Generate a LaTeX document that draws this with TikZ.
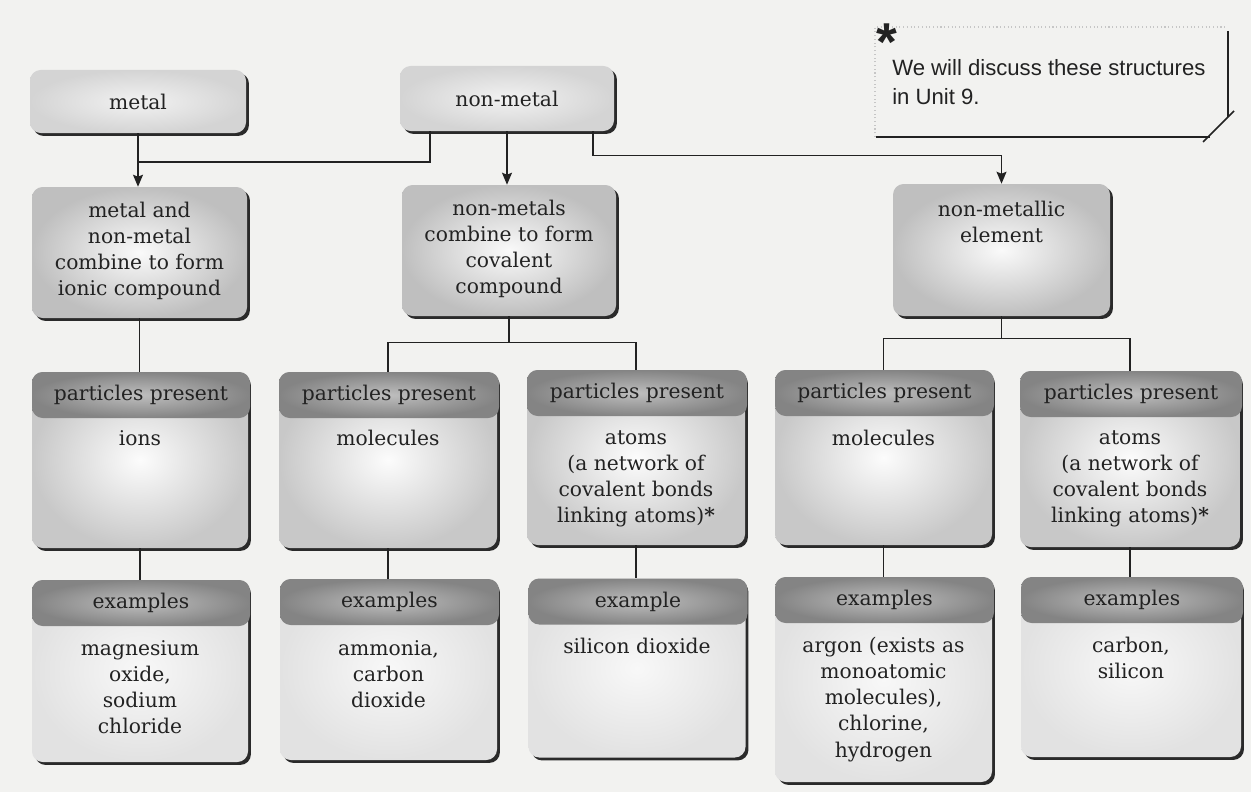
\documentclass[tikz,border=0pt]{standalone}
\usepackage{fontspec}
\setmainfont{DejaVu Serif}
\newfontfamily\notefont{Liberation Sans}
\usetikzlibrary{arrows.meta,shadows,calc}
\newcommand\pxu{0.75pt}
\newcommand\mainsz{\fontsize{15.2}{19.6}\selectfont}
\definecolor{bgc}{HTML}{F2F2F0}
\definecolor{ink}{HTML}{222222}
\definecolor{shd}{HTML}{2A2A2A}
\definecolor{topin}{HTML}{F2F2F2}
\definecolor{topout}{HTML}{D4D4D4}
\definecolor{midin}{HTML}{FAFAFA}
\definecolor{midout}{HTML}{BFBFBF}
\definecolor{pin}{HTML}{FCFCFC}
\definecolor{pout}{HTML}{C8C8C8}
\definecolor{hin}{HTML}{BEBEBE}
\definecolor{hout}{HTML}{848484}
\definecolor{ein}{HTML}{F8F8F8}
\definecolor{eout}{HTML}{E2E2E2}
\tikzset{
  sz/.style 2 args={minimum width=#1*\pxu, minimum height=#2*\pxu},
  basebox/.style={rectangle, rounded corners=8pt, inner sep=0pt,
    general shadow={fill=shd, shadow xshift=2.2pt, shadow yshift=-2.2pt}},
  topbox/.style={basebox, inner color=topin, outer color=topout, font=\mainsz, text=ink},
  midbox/.style={basebox, inner color=midin, outer color=midout},
  pbox/.style={basebox, inner color=pin, outer color=pout},
  ebox/.style={basebox, inner color=ein, outer color=eout},
  hdr/.style={rectangle, rounded corners=8pt, inner sep=0pt, anchor=north,
    inner color=hin, outer color=hout, font=\mainsz, text=ink},
  txt/.style={inner sep=0pt, anchor=north, align=center, font=\mainsz, text=ink},
  conn/.style={draw=ink, line width=1.1pt},
  arr/.style={conn, -{Stealth[length=9pt,width=7.5pt,inset=1.5pt]}},
  noteline/.style={draw=ink, line width=1.1pt},
}
\begin{document}
\begin{tikzpicture}[x=0.75pt,y=-0.75pt]
\fill[bgc] (0,0) rectangle (1251,792);

% note
\draw[gray!45, dotted, line width=0.8pt] (875,137) -- (875,27) -- (1226,27);
\draw[noteline] (876,137) -- (1210,137);
\draw[noteline] (1228,31) -- (1228,117);
\draw[noteline] (1203,142) -- (1234,111);
\node[inner sep=0pt, text=ink, font={\notefont\fontsize{40}{40}\selectfont\bfseries}] (ast) at (887,42) {*};
\node[inner sep=0pt, anchor=north west, align=left, text=ink,
  font={\notefont\fontsize{16.6}{21.5}\selectfont}] (note) at (892,55) {\strut We will discuss these structures\\in Unit 9.};

% top row
\node[topbox, sz={216}{63}] (metal) at (138,101.5) {metal};
\node[topbox, sz={214}{65}] (nonmetal) at (507,98.5) {non-metal};

% second row
\node[midbox, sz={215}{131}] (ionic) at (139.5,252.5) {};
\node[txt] (ionict) at (139.5,199) {\strut metal and\\non-metal\\combine to form\\ionic compound};
\node[midbox, sz={214}{131}] (coval) at (509,250.5) {};
\node[txt] (covalt) at (509,197) {\strut non-metals\\combine to form\\covalent\\compound};
\node[midbox, sz={217}{132}] (nmel) at (1001.5,250) {};
\node[txt] (nmelt) at (1001.5,197.5) {\strut non-metallic\\element};

% third row
\node[pbox, sz={216}{176}] (p1) at (140,460) {};
\node[hdr, sz={218}{46}] (p1h) at ([xshift=1*\pxu]p1.north) {particles present};
\node[txt] (p1t) at (140,427) {\strut ions};
\node[pbox, sz={218}{176}] (p2) at (388,460) {};
\node[hdr, sz={220}{46}] (p2h) at ([xshift=1*\pxu]p2.north) {particles present};
\node[txt] (p2t) at (388,427) {\strut molecules};
\node[pbox, sz={218}{175}] (p3) at (636,457.5) {};
\node[hdr, sz={220}{46}] (p3h) at ([xshift=1*\pxu]p3.north) {particles present};
\node[txt] (p3t) at (636,426) {\strut atoms\\(a network of\\covalent bonds\\linking atoms){\bfseries *}};
\node[pbox, sz={217}{175}] (p4) at (883.5,457.5) {};
\node[hdr, sz={219}{46}] (p4h) at ([xshift=1*\pxu]p4.north) {particles present};
\node[txt] (p4t) at (883.5,427) {\strut molecules};
\node[pbox, sz={220}{176}] (p5) at (1130,459) {};
\node[hdr, sz={222}{46}] (p5h) at ([xshift=1*\pxu]p5.north) {particles present};
\node[txt] (p5t) at (1130,426) {\strut atoms\\(a network of\\covalent bonds\\linking atoms){\bfseries *}};

% fourth row
\node[ebox, sz={216}{182}] (e1) at (140,671) {};
\node[hdr, sz={218}{46}] (e1h) at ([xshift=1*\pxu]e1.north) {examples};
\node[txt] (e1t) at (140,637) {\strut magnesium\\oxide,\\sodium\\chloride};
\node[ebox, sz={217}{181}] (e2) at (388.5,669.5) {};
\node[hdr, sz={219}{46}] (e2h) at ([xshift=1*\pxu]e2.north) {examples};
\node[txt] (e2t) at (388.5,637) {\strut ammonia,\\carbon\\dioxide};
\node[ebox, sz={217}{179}] (e3) at (637,668) {};
\node[hdr, sz={219}{46}] (e3h) at ([xshift=1*\pxu]e3.north) {example};
\node[txt] (e3t) at (637,635) {\strut silicon dioxide};
\node[ebox, sz={217}{205}] (e4) at (883.5,679.5) {};
\node[hdr, sz={219}{46}] (e4h) at ([xshift=1*\pxu]e4.north) {examples};
\node[txt] (e4t) at (883.5,634) {\strut argon (exists as\\monoatomic\\molecules),\\chlorine,\\hydrogen};
\node[ebox, sz={220}{180}] (e5) at (1131,667) {};
\node[hdr, sz={222}{46}] (e5h) at ([xshift=1*\pxu]e5.north) {examples};
\node[txt] (e5t) at (1131,634) {\strut carbon,\\silicon};

% connectors top
\coordinate (nmL) at ([xshift=-77*\pxu]nonmetal.south);
\coordinate (nmR) at ([xshift=86*\pxu]nonmetal.south);
\coordinate (jm) at (138,162);
\draw[arr] (metal.south) -- (metal.south |- ionic.north);
\draw[conn] (nmL) |- (jm);
\draw[arr] (nonmetal.south) -- (nonmetal.south |- coval.north);
\draw[arr] (nmR) -- ++(0,24) -| (nmel.north);

% connectors second
\draw[conn] (ionic.south) -- (ionic.south |- p1.north);
\draw[conn] (coval.south) -- ++(0,26);
\draw[conn] (p2.north) |- ($(coval.south)+(0,26)$) -| (p3.north);
\draw[conn] (nmel.south) -- ++(0,22);
\draw[conn] (p4.north) |- ($(nmel.south)+(0,22)$) -| (p5.north);

% connectors third
\draw[conn] (p1.south) -- (p1.south |- e1.north);
\draw[conn] (p2.south) -- (p2.south |- e2.north);
\draw[conn] (p3.south) -- (p3.south |- e3.north);
\draw[conn] (p4.south) -- (p4.south |- e4.north);
\draw[conn] (p5.south) -- (p5.south |- e5.north);
\end{tikzpicture}
\end{document}
